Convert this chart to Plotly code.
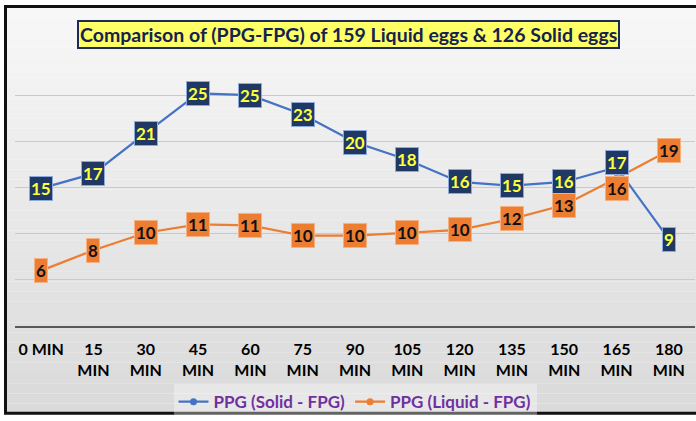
import plotly.graph_objects as go

# ---------------- data ----------------
categories = ["0 MIN", "15<br>MIN", "30<br>MIN", "45<br>MIN", "60<br>MIN", "75<br>MIN",
              "90<br>MIN", "105<br>MIN", "120<br>MIN", "135<br>MIN", "150<br>MIN",
              "165<br>MIN", "180<br>MIN"]
solid_values = [14.9, 16.5, 20.9, 25.2, 25.0, 22.9, 19.9, 18.0, 15.6, 15.2, 15.6, 17.2, 9.4]
liquid_values = [6.0, 8.2, 10.1, 11.0, 10.9, 9.8, 9.8, 10.1, 10.4, 11.6, 13.1, 16.0, 19.0]
solid_name = "PPG (Solid - FPG)"
liquid_name = "PPG (Liquid - FPG)"
title_text = "Comparison of (PPG-FPG) of 159 Liquid eggs &amp; 126 Solid eggs"

# ---------------- layout constants ----------------
W, H = 696, 421
ML, MR, MT, MB = 15, 1, 49, 91
PW, PH = W - ML - MR, H - MT - MB


def px_x(p):
    return (p - ML) / PW


def px_y(p):
    return (H - MB - p) / PH


BLUE_LINE = "#4472C4"
ORANGE = "#ED7D31"
NAVY = "#1F3864"
FONT = "Lato"

fig = go.Figure()
fig.add_trace(go.Scatter(x=categories, y=solid_values, name=solid_name, mode="lines+markers",
                         line=dict(color=BLUE_LINE, width=2.25),
                         marker=dict(color=BLUE_LINE, size=7, symbol="circle")))
fig.add_trace(go.Scatter(x=categories, y=liquid_values, name=liquid_name, mode="lines+markers",
                         line=dict(color=ORANGE, width=2.25),
                         marker=dict(color=ORANGE, size=7, symbol="circle")))

annotations = []
# label offsets (px) where the boxed labels were nudged apart in the original
solid_shift = {11: 5}
liquid_shift = {11: -10}
for i, (c, v) in enumerate(zip(categories, solid_values)):
    annotations.append(dict(x=c, y=v, xref="x", yref="y", text=str(int(v + 0.5)),
                            showarrow=False, yshift=solid_shift.get(i, 0),
                            font=dict(family=FONT, size=17, color="#FFFF3C", weight="bold"),
                            bgcolor=NAVY, bordercolor="#8EA9DB", borderwidth=1, borderpad=1))
for i, (c, v) in enumerate(zip(categories, liquid_values)):
    annotations.append(dict(x=c, y=v, xref="x", yref="y", text=str(int(v + 0.5)),
                            showarrow=False, yshift=liquid_shift.get(i, 0),
                            font=dict(family=FONT, size=17, color="#111111", weight="bold"),
                            bgcolor=ORANGE, bordercolor="#F4B183", borderwidth=1, borderpad=1))

# title box
annotations.append(dict(x=px_x(348), y=px_y(34), xref="paper", yref="paper",
                        xanchor="center", yanchor="middle", text=title_text, showarrow=False,
                        font=dict(family=FONT, size=19.5, color="#14224F", weight="bold"),
                        bgcolor="#FFFF66", bordercolor="#1C2A55", borderwidth=2, borderpad=1))

# background gradient bands inside the frame + frame
shapes = []
top, bottom = 6, 419
n = 40
c0 = (0xF8, 0xF8, 0xF8)
c1 = (0xDA, 0xDA, 0xDA)
for k in range(n):
    y0p = top + (bottom - top) * k / n
    y1p = top + (bottom - top) * (k + 1) / n
    t = (k + 0.5) / n
    col = "rgb(%d,%d,%d)" % tuple(int(a + (b - a) * t) for a, b in zip(c0, c1))
    shapes.append(dict(type="rect", xref="paper", yref="paper", layer="below",
                       x0=px_x(5), x1=px_x(W + 5), y0=px_y(y1p), y1=px_y(y0p),
                       fillcolor=col, line=dict(width=0)))
shapes.append(dict(type="rect", xref="paper", yref="paper", layer="above",
                   x0=px_x(5.5), x1=px_x(W + 10), y0=px_y(418.5), y1=px_y(6),
                   fillcolor="rgba(0,0,0,0)", line=dict(color="#111111", width=3)))

fig.update_layout(
    width=W, height=H,
    margin=dict(l=ML, r=MR, t=MT, b=MB, pad=0),
    paper_bgcolor="white", plot_bgcolor="rgba(0,0,0,0)",
    font=dict(family=FONT),
    showlegend=True,
    legend=dict(orientation="h", x=0.5, xanchor="center", y=px_y(389), yanchor="top",
                bgcolor="rgba(255,255,255,0.35)",
                font=dict(family=FONT, size=17, color="#7030A0", weight="bold"),
                itemwidth=30, tracegroupgap=0),
    annotations=annotations,
    shapes=shapes,
)
fig.update_xaxes(type="category", range=[-0.5, len(categories) - 0.5],
                 showgrid=False, showline=True, linecolor="#595959", linewidth=1.5,
                 ticks="", ticklabelstandoff=8,
                 tickfont=dict(family=FONT, size=16, color="#000000", weight="bold"))
fig.update_yaxes(range=[0, 30], dtick=5, showticklabels=False, showgrid=True,
                 gridcolor="#CACACA", gridwidth=1, zeroline=False, showline=False, ticks="")

fig.write_html("out.html", config={"displayModeBar": False},
               post_script="document.body.style.margin='0';document.body.style.overflow='hidden';")
